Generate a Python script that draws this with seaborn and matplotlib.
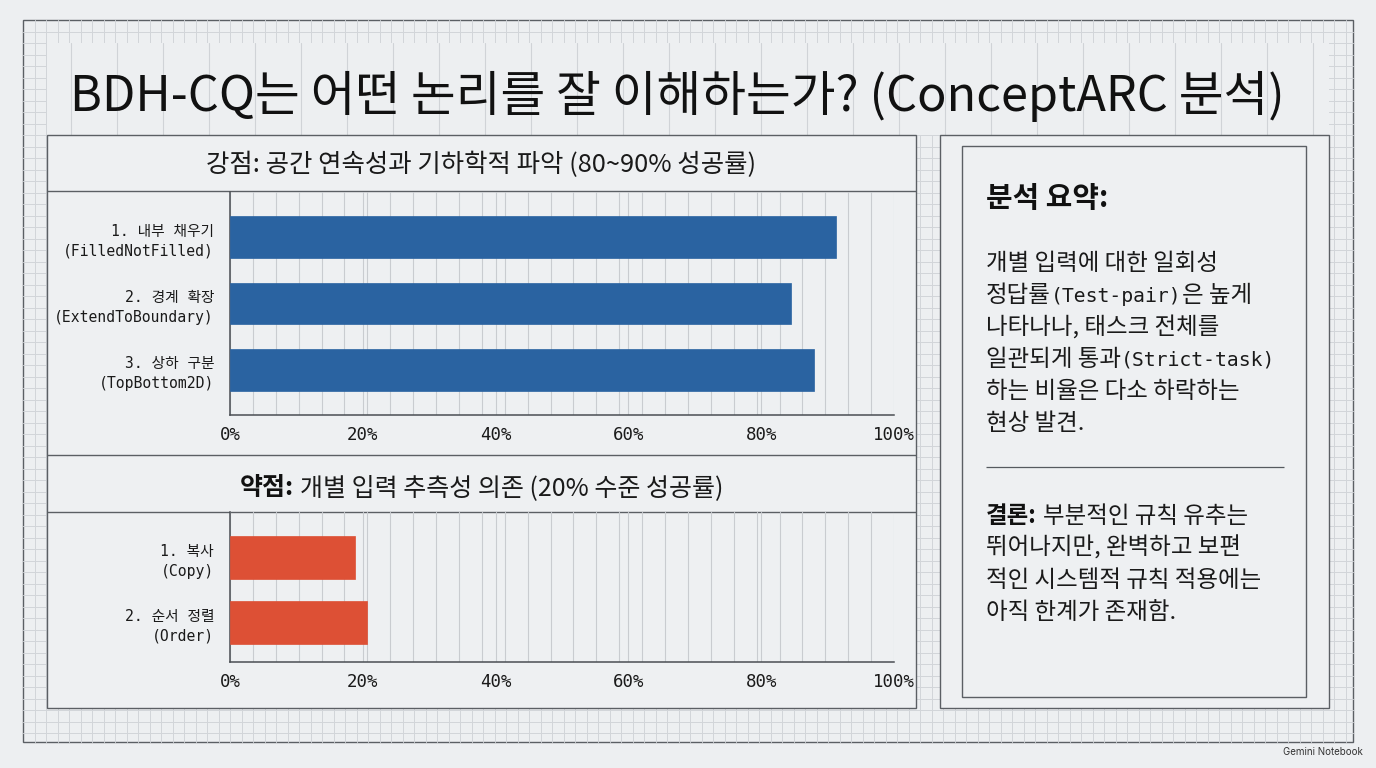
import re
import numpy as np
import pandas as pd
import matplotlib
matplotlib.use("Agg")
import matplotlib.pyplot as plt
import seaborn as sns

# ---------------- data ----------------
title = "BDH-CQ는 어떤 논리를 잘 이해하는가? (ConceptARC 분석)"
strength_title = "강점: 공간 연속성과 기하학적 파악 (80~90% 성공률)"
strength_labels = ["1. 내부 채우기\n(FilledNotFilled)",
                   "2. 경계 확장\n(ExtendToBoundary)",
                   "3. 상하 구분\n(TopBottom2D)"]
strength_values = [91.3, 84.5, 88.0]

weak_title_bold = "약점:"
weak_title = " 개별 입력 추측성 의존 (20% 수준 성공률)"
weak_labels = ["1. 복사\n(Copy)", "2. 순서 정렬\n(Order)"]
weak_values = [18.9, 20.7]

x_ticks = [0, 20, 40, 60, 80, 100]
x_tick_labels = ["0%", "20%", "40%", "60%", "80%", "100%"]

summary_head = "분석 요약:"
summary_lines = ["개별 입력에 대한 일회성",
                 "정답률(Test-pair)은 높게",
                 "나타나나, 태스크 전체를",
                 "일관되게 통과(Strict-task)",
                 "하는 비율은 다소 하락하는",
                 "현상 발견."]
concl_head = "결론:"
concl_lines = [" 부분적인 규칙 유추는",
               "뛰어나지만, 완벽하고 보편",
               "적인 시스템적 규칙 적용에는",
               "아직 한계가 존재함."]
watermark = "Gemini Notebook"

# ---------------- style ----------------
BG = "#edeff1"
PANEL = "#eef0f2"
LINE = "#5b5f64"
MINOR = "#d2d5d9"
MAJOR = "#d0d3d7"
CHART_GRID = "#c9ccd0"
BLUE = "#2a63a1"
RED = "#dd5035"
KR = "Noto Sans CJK KR"
MONO = "DejaVu Sans Mono"

sns.set_theme(style="white")
plt.rcParams["font.family"] = [KR, "DejaVu Sans"]

W, H = 1376, 768
fig = plt.figure(figsize=(W / 100, H / 100), dpi=100, facecolor=BG)

bg = fig.add_axes([0, 0, 1, 1], zorder=0)
bg.set_xlim(0, W)
bg.set_ylim(H, 0)
bg.axis("off")
bg.set_facecolor(BG)

def rect(x0, y0, x1, y1, fill=PANEL, lw=1.0, ec=LINE, z=2):
    bg.add_patch(plt.Rectangle((x0, y0), x1 - x0, y1 - y0, facecolor=fill,
                               edgecolor=ec, lw=lw, zorder=z))

def hline(y, x0, x1, lw=1.0, c=LINE, z=3):
    bg.plot([x0, x1], [y, y], color=c, lw=lw, zorder=z, solid_capstyle="butt")

# outer frame with minor grid
FX0, FY0, FX1, FY1 = 23, 20, 1353, 742
rect(FX0, FY0, FX1, FY1, fill=BG, lw=1.0, z=0.5)
step = 11.5
for gx in np.arange(FX0 + step, FX1, step):
    bg.plot([gx, gx], [FY0, FY1], color=MINOR, lw=0.7, zorder=0.6)
for gy in np.arange(FY0 + step, FY1, step):
    bg.plot([FX0, FX1], [gy, gy], color=MINOR, lw=0.7, zorder=0.6)
# title band: only major verticals
rect(47, 43, 1329, 135, fill=BG, lw=0, ec="none", z=0.7)
for gx in np.arange(24.7, 1329, 46):
    if gx > 47:
        bg.plot([gx, gx], [43, 135], color=MAJOR, lw=0.8, zorder=0.8)

# left panel
rect(47, 135, 916, 708, z=1)
hline(191, 47, 916)
hline(455, 47, 916)
hline(512, 47, 916)
# right panel
rect(940, 135, 1329, 708, z=1)
rect(962, 146, 1306, 697, z=1.5)
hline(467, 986, 1284, lw=0.9, c="#555a5f")

# title
fig.text(677 / W, 1 - 96 / H, title, ha="center", va="center",
         fontsize=35, color="#111111", family=[KR, "DejaVu Sans"])

renderer = fig.canvas.get_renderer()

def draw_runs(x, y, runs, ha="left"):
    texts, widths, gaps = [], [], []
    for s, kw in runs:
        gap = 0.0
        if s.startswith(" "):
            gap = kw.get("fontsize", 12) * 100 / 72 * 0.26
            s = s.lstrip(" ")
        t = bg.text(0, y, s, va="baseline", ha="left", zorder=5, **kw)
        bb = t.get_window_extent(renderer)
        texts.append(t); widths.append(bb.width); gaps.append(gap)
    total = sum(widths) + sum(gaps)
    cur = x if ha == "left" else x - total / 2
    for t, w, g in zip(texts, widths, gaps):
        cur += g
        t.set_x(cur)
        cur += w

def split_runs(line, size, color="#1a1a1a"):
    parts = re.split(r"([A-Za-z()\-]+)", line)
    runs = []
    for p in parts:
        if not p:
            continue
        if re.fullmatch(r"[A-Za-z()\-]+", p):
            runs.append((p, dict(family=[MONO, KR], fontsize=size * 0.84, color=color)))
        else:
            runs.append((p, dict(family=[KR, "DejaVu Sans"], fontsize=size, color=color)))
    return runs

# panel headers
draw_runs(481.5, 172, [(strength_title, dict(family=[KR], fontsize=18.3, color="#1a1a1a"))], ha="center")
draw_runs(481.5, 495, [(weak_title_bold, dict(family=[KR], fontsize=18, weight="bold", color="#111111")),
                       (weak_title, dict(family=[KR], fontsize=18, color="#1a1a1a"))], ha="center")

# right panel texts
BODY = 16.9
draw_runs(986, 207, [(summary_head, dict(family=[KR], fontsize=20.8, weight="bold", color="#111111"))])
for i, ln in enumerate(summary_lines):
    draw_runs(986, 270 + 32 * i, split_runs(ln, BODY))
for i, ln in enumerate(concl_lines):
    runs = []
    if i == 0:
        runs.append((concl_head, dict(family=[KR], fontsize=BODY, weight="bold", color="#111111")))
    runs += [(ln, dict(family=[KR], fontsize=BODY, color="#1a1a1a"))]
    draw_runs(986, 523 + 32 * i, runs)

fig.text(1363 / W, 1 - 752 / H, watermark, ha="right", va="center",
         fontsize=7, color="#333333", family=["Inter", "DejaVu Sans"])

# ---------------- charts ----------------
def make_chart(rect_px, labels, values, color, width, ylim):
    x0, y0, x1, y1 = rect_px
    ax = fig.add_axes([x0 / W, 1 - y1 / H, (x1 - x0) / W, (y1 - y0) / H], zorder=3)
    ax.set_facecolor("none")
    df = pd.DataFrame({"label": labels, "value": values})
    sns.barplot(data=df, x="value", y="label", orient="h", color=color,
                saturation=1, width=width, ax=ax, zorder=3,
                edgecolor=color, linewidth=0.5)
    ax.set_xlim(0, 100)
    ax.set_ylim(*ylim)
    ax.set_xticks(x_ticks)
    ax.set_xticklabels(x_tick_labels)
    ax.set_xticks(np.linspace(0, 100, 30), minor=True)
    ax.grid(which="both", axis="x", color=CHART_GRID, lw=0.8)
    ax.grid(False, axis="y")
    ax.set_axisbelow(True)
    ax.set_xlabel("")
    ax.set_ylabel("")
    for s in ["top", "right"]:
        ax.spines[s].set_visible(False)
    for s in ["left", "bottom"]:
        ax.spines[s].set_color("#4a4e53")
        ax.spines[s].set_linewidth(1.1)
    ax.tick_params(axis="x", which="both", length=0, pad=8, labelsize=12.5, labelcolor="#1a1a1a")
    ax.tick_params(axis="y", length=0, pad=11.5, labelsize=10.6, labelcolor="#1a1a1a")
    for lbl in ax.get_xticklabels():
        lbl.set_fontfamily([MONO, KR])
    for lbl in ax.get_yticklabels():
        lbl.set_fontfamily([MONO, KR])
        lbl.set_linespacing(1.4)
    return ax

make_chart((230, 192, 894, 415), strength_labels, strength_values, BLUE, 0.63, (2.677, -0.677))
make_chart((230, 512, 894, 662), weak_labels, weak_values, RED, 0.66, (1.61, -0.70))

fig.savefig("out.png", dpi=100, facecolor=BG)
